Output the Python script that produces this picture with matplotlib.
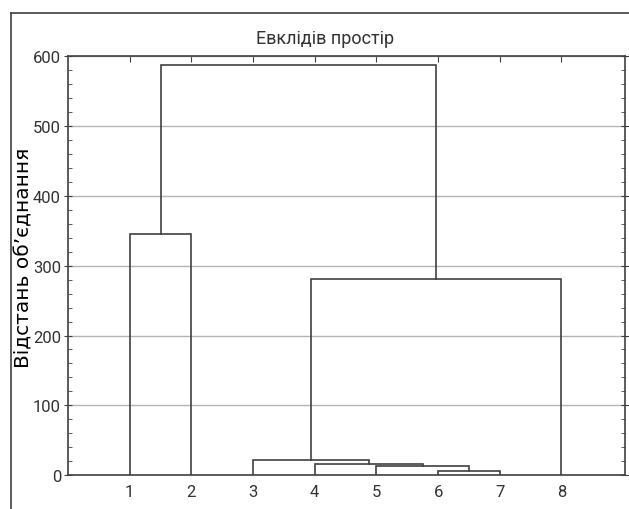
import matplotlib.pyplot as plt
from matplotlib.lines import Line2D
from matplotlib.ticker import MultipleLocator

plt.rcParams['font.family'] = ['Roboto', 'DejaVu Sans']
plt.rcParams['text.color'] = '#333333'
plt.rcParams['xtick.labelcolor'] = '#333333'
plt.rcParams['ytick.labelcolor'] = '#333333'

# Objects (leaves) in the order they appear on the x axis
leaf_labels = ['1', '2', '3', '4', '5', '6', '7', '8']

# Joins: left node, right node, linkage distance
# nodes 0..7 are the leaves, each join creates node 8, 9, ...
join_left = [5, 4, 3, 2, 11, 0, 13]
join_right = [6, 8, 9, 10, 7, 1, 12]
join_height = [5.7, 13.3, 16.2, 21.5, 280.5, 345.5, 587.0]

line_color = '#404040'

fig = plt.figure(figsize=(6.29, 5.10), dpi=100)
ax = fig.add_axes([0.1081, 0.0661, 0.8855, 0.8222])

# Position and height of each node
node_x = [i + 1 for i in range(len(leaf_labels))]
node_h = [0.0] * len(leaf_labels)

for a, b, h in zip(join_left, join_right, join_height):
    xa, xb = node_x[a], node_x[b]
    ax.plot([xa, xa, xb, xb], [node_h[a], h, h, node_h[b]],
            color=line_color, lw=1.2, solid_joinstyle='miter', zorder=3)
    node_x.append((xa + xb) / 2)
    node_h.append(h)

ax.set_xlim(0, 9.03)
ax.set_ylim(0, 600)
ax.set_xticks(range(1, len(leaf_labels) + 1))
ax.set_xticklabels(leaf_labels)
ax.yaxis.set_major_locator(MultipleLocator(100))
ax.yaxis.set_minor_locator(MultipleLocator(20))

# Horizontal gridlines only
ax.grid(axis='y', color='#b4b4b4', lw=1.0)
ax.set_axisbelow(True)

for sp in ax.spines.values():
    sp.set_color(line_color)
    sp.set_linewidth(1.2)

ax.tick_params(axis='x', which='major', direction='in', top=True, bottom=False,
               length=4, color=line_color, labelsize=12, pad=6)
ax.tick_params(axis='y', which='major', direction='inout', left=True, right=True,
               length=6, color=line_color, labelsize=12, pad=2)
ax.tick_params(axis='y', which='minor', direction='in', left=True, right=True,
               length=3, color=line_color)

ax.set_ylabel('Відстань об’єднання', fontsize=14.5, family=['DejaVu Sans'])
ax.yaxis.set_label_coords(-0.062, 0.52)

# Title and outer frame of the graph window
fig.text(325 / 629, 1 - 39 / 510, 'Евклідів простір', fontsize=13,
         ha='center', va='center')
fig.add_artist(Line2D([11 / 629, 11 / 629], [0, 1 - 14 / 510],
                      transform=fig.transFigure, color=line_color, lw=1.2))
fig.add_artist(Line2D([11 / 629, 1], [1 - 14 / 510, 1 - 14 / 510],
                      transform=fig.transFigure, color=line_color, lw=1.2))

fig.savefig('out.png', dpi=100)
